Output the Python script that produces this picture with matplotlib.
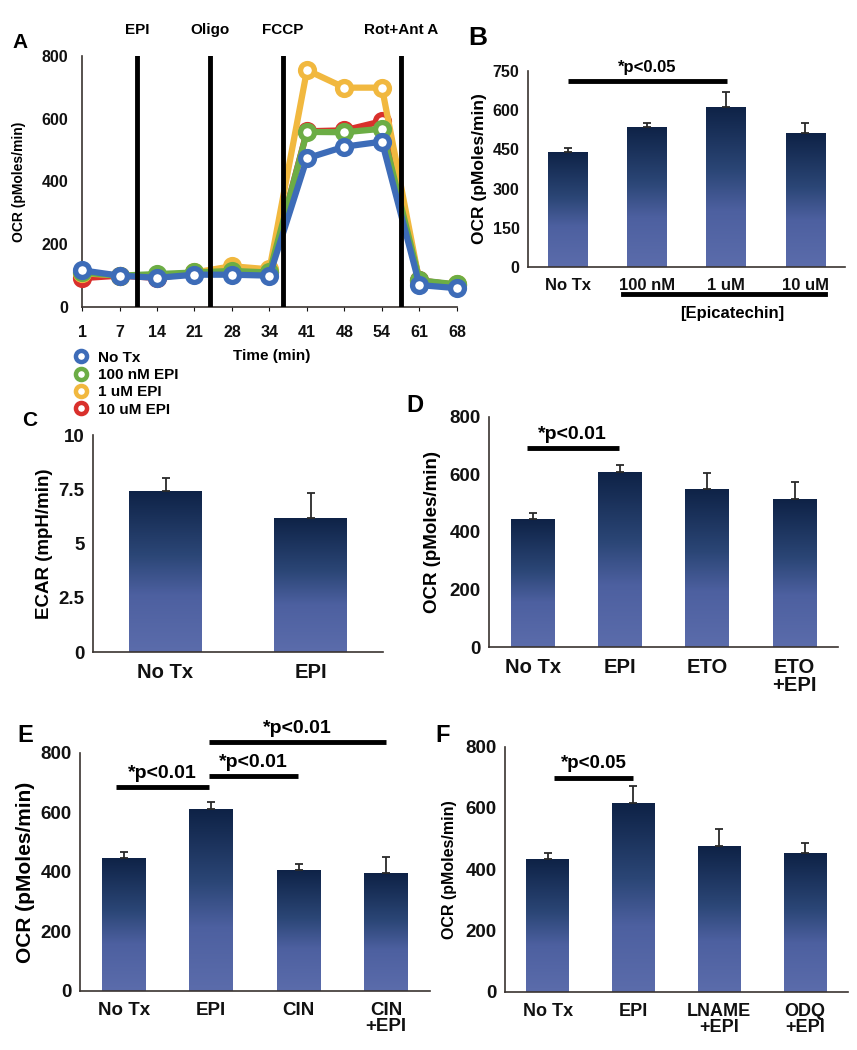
import numpy as np
import matplotlib
matplotlib.use("Agg")
import matplotlib.pyplot as plt
from matplotlib.colors import LinearSegmentedColormap
from matplotlib.lines import Line2D
import matplotlib.transforms as mtransforms

plt.rcParams['font.family'] = ['Liberation Sans', 'DejaVu Sans']
plt.rcParams['font.weight'] = 'bold'

# ---------------- data ----------------
# Panel A
time_labels = ['1', '7', '14', '21', '28', '34', '41', '48', '54', '61', '68']
a_notx = [117, 100, 93, 103, 103, 100, 474, 511, 527, 70, 60]
a_100nm = [110, 100, 105, 110, 115, 110, 558, 557, 568, 85, 72]
a_1um = [108, 100, 100, 110, 130, 120, 755, 699, 699, 80, 72]
a_10um = [92, 100, 93, 108, 110, 110, 560, 563, 592, 85, 70]
a_series_names = ['No Tx', '100 nM EPI', '1 uM EPI', '10 uM EPI']
injections = ['EPI', 'Oligo', 'FCCP', 'Rot+Ant A']
injection_pos = [1.47, 3.42, 5.35, 8.5]

# Panel B
b_cats = ['No Tx', '100 nM', '1 uM', '10 uM']
b_vals = [441, 537, 613, 512]
b_err = [14, 13, 58, 38]

# Panel C
c_cats = ['No Tx', 'EPI']
c_vals = [7.42, 6.19]
c_err = [0.58, 1.12]

# Panel D
d_cats = ['No Tx', 'EPI', 'ETO', 'ETO\n+EPI']
d_vals = [445, 610, 551, 514]
d_err = [22, 24, 55, 61]

# Panel E
e_cats = ['No Tx', 'EPI', 'CIN', 'CIN\n+EPI']
e_vals = [448, 611, 407, 396]
e_err = [20, 23, 19, 53]

# Panel F
f_cats = ['No Tx', 'EPI', 'LNAME\n+EPI', 'ODQ\n+EPI']
f_vals = [434, 615, 475, 452]
f_err = [18, 58, 57, 33]

# ---------------- style ----------------
cmap = LinearSegmentedColormap.from_list(
    'barg', [(0.0, '#5b6cab'), (0.35, '#4d60a0'), (0.6, '#2b4676'), (1.0, '#0e2246')])
grad = np.linspace(0, 1, 256).reshape(-1, 1)
spine_col = '#3a3330'

fig = plt.figure(figsize=(8.57, 10.5), dpi=100)


def style_axes(ax, tick_fs):
    for s in ['top', 'right']:
        ax.spines[s].set_visible(False)
    for s in ['left', 'bottom']:
        ax.spines[s].set_color(spine_col)
        ax.spines[s].set_linewidth(1.2)
    ax.tick_params(axis='both', length=0, labelsize=tick_fs, colors='#111111')
    for lab in ax.get_yticklabels() + ax.get_xticklabels():
        lab.set_fontweight('bold')


def grad_bars(ax, cats, vals, errs, ylim, yticks, ytlabels, tick_fs, xfs, xpad=6):
    x = np.arange(len(cats))
    bars = ax.bar(x, vals, 0.5, color='none', edgecolor='none', zorder=2)
    for b in bars:
        x0, y0 = b.get_x(), b.get_y()
        im = ax.imshow(grad, cmap=cmap, origin='lower', aspect='auto',
                       extent=[x0, x0 + b.get_width(), y0, y0 + b.get_height()],
                       zorder=2, interpolation='bilinear')
        im.set_clip_path(b)
    ax.errorbar(x, vals, yerr=[np.zeros(len(vals)), errs], fmt='none',
                ecolor='#2a2a2a', elinewidth=1.3, capsize=3, capthick=1.3, zorder=3)
    ax.set_xlim(-0.5, len(cats) - 0.5)
    ax.set_ylim(*ylim)
    ax.set_yticks(yticks)
    ax.set_yticklabels(ytlabels)
    ax.set_xticks(x)
    ax.set_xticklabels(cats, fontsize=xfs, fontweight='bold', linespacing=0.95)
    style_axes(ax, tick_fs)
    ax.tick_params(axis='x', labelsize=xfs, pad=xpad)
    ax.tick_params(axis='y', pad=6)
    return x


def sig(ax, x1, x2, y, text, fs, dy):
    ax.plot([x1, x2], [y, y], color='black', lw=3.5, solid_capstyle='butt', clip_on=False, zorder=4)
    ax.text((x1 + x2) / 2, y + dy, text, ha='center', va='bottom', fontsize=fs,
            fontweight='bold', clip_on=False)


# ---------------- Panel A ----------------
axA = fig.add_axes([0.0957, 0.7076, 0.4375, 0.2391])
xa = np.arange(len(time_labels))
colors = {'No Tx': '#3d6cb8', '100 nM EPI': '#6cad45', '1 uM EPI': '#f1b83f', '10 uM EPI': '#d9302c'}
series = {'No Tx': a_notx, '100 nM EPI': a_100nm, '1 uM EPI': a_1um, '10 uM EPI': a_10um}
for name in ['10 uM EPI', '1 uM EPI', '100 nM EPI', 'No Tx']:
    axA.plot(xa, series[name], color=colors[name], lw=4.5, marker='o', ms=10,
             mfc='white', mec=colors[name], mew=3.8, clip_on=False, zorder=3)
for p in injection_pos:
    axA.axvline(p, color='black', lw=3.5, zorder=4)
for p, t in zip(injection_pos, injections):
    axA.text(p, 1.105, t, transform=mtransforms.blended_transform_factory(axA.transData, axA.transAxes),
             ha='center', va='center', fontsize=11, fontweight='bold')
axA.set_xlim(0, 10)
axA.set_ylim(0, 800)
axA.set_yticks([0, 200, 400, 600, 800])
axA.set_xticks(xa)
axA.set_xticklabels(time_labels)
style_axes(axA, 11.5)
axA.tick_params(axis='x', length=3, pad=10, labelsize=11.5)
axA.tick_params(axis='y', pad=10)
fig.text(19 / 857, 1 - 182 / 1050, 'OCR (pMoles/min)', rotation=90, ha='center', va='center',
         fontsize=10, fontweight='bold')
fig.text(272 / 857, 1 - 356 / 1050, 'Time (min)', ha='center', va='center', fontsize=11, fontweight='bold')
handles = [Line2D([], [], ls='none', marker='o', ms=8, mfc='white', mec=colors[n], mew=3.2)
           for n in a_series_names]
fig.legend(handles, a_series_names, loc='upper left', bbox_to_anchor=(64 / 857, 1 - 343 / 1050),
           frameon=False, fontsize=11, handletextpad=0.5, labelspacing=0.22, borderpad=0,
           handlelength=1.2, prop={'weight': 'bold', 'size': 11})

# ---------------- Panel B ----------------
axB = fig.add_axes([0.616, 0.7457, 0.370, 0.1867])
grad_bars(axB, b_cats, b_vals, b_err, (0, 750), [0, 150, 300, 450, 600, 750],
          ['0', '150', '300', '450', '600', '750'], 11.5, 12, xpad=8)
axB.set_ylabel('OCR (pMoles/min)', fontsize=12.5, fontweight='bold', labelpad=4)
sig(axB, 0, 2.01, 712, '*p<0.05', 12, 22)
trB = mtransforms.blended_transform_factory(axB.transData, axB.transAxes)
axB.plot([0.7, 3.25], [-0.138, -0.138], color='black', lw=3.5, transform=trB, clip_on=False)
axB.text(2.08, -0.235, '[Epicatechin]', transform=trB, ha='center', va='center',
         fontsize=12, fontweight='bold')

# ---------------- Panel C ----------------
axC = fig.add_axes([0.1085, 0.379, 0.3385, 0.2067])
grad_bars(axC, c_cats, c_vals, c_err, (0, 10), [0, 2.5, 5, 7.5, 10],
          ['0', '2.5', '5', '7.5', '10'], 13.5, 14.5, xpad=8)
axC.set_ylabel('ECAR (mpH/min)', fontsize=13.5, fontweight='bold', labelpad=4)

# ---------------- Panel D ----------------
axD = fig.add_axes([0.5706, 0.3838, 0.4074, 0.2191])
grad_bars(axD, d_cats, d_vals, d_err, (0, 800), [0, 200, 400, 600, 800],
          ['0', '200', '400', '600', '800'], 13.5, 14.5, xpad=8)
axD.set_ylabel('OCR (pMoles/min)', fontsize=13.5, fontweight='bold', labelpad=6)
sig(axD, -0.07, 0.99, 693, '*p<0.01', 14, 18)

# ---------------- Panel E ----------------
axE = fig.add_axes([0.0933, 0.0562, 0.4084, 0.2267])
grad_bars(axE, e_cats, e_vals, e_err, (0, 800), [0, 200, 400, 600, 800],
          ['0', '200', '400', '600', '800'], 13.5, 13.5, xpad=8)
axE.set_ylabel('OCR (pMoles/min)', fontsize=15, fontweight='bold', labelpad=4)
sig(axE, -0.09, 0.98, 685, '*p<0.01', 14, 16)
sig(axE, 0.98, 1.99, 723, '*p<0.01', 14, 16)
sig(axE, 0.98, 3.0, 838, '*p<0.01', 14, 16)

# ---------------- Panel F ----------------
axF = fig.add_axes([0.589, 0.0555, 0.4005, 0.2334])
grad_bars(axF, f_cats, f_vals, f_err, (0, 800), [0, 200, 400, 600, 800],
          ['0', '200', '400', '600', '800'], 13.5, 13, xpad=8)
axF.set_ylabel('OCR (pMoles/min)', fontsize=11.5, fontweight='bold', labelpad=6)
sig(axF, 0.07, 1.0, 698, '*p<0.05', 13.5, 18)

# ---------------- panel letters ----------------
for lab, x, y, fs in [('A', 20, 43, 15), ('B', 478, 38, 19), ('C', 30, 420, 15),
                      ('D', 415, 406, 17), ('E', 25, 735, 17), ('F', 443, 735, 17)]:
    fig.text(x / 857, 1 - y / 1050, lab, ha='center', va='center', fontsize=fs, fontweight='bold')

fig.savefig('out.png', dpi=100)
